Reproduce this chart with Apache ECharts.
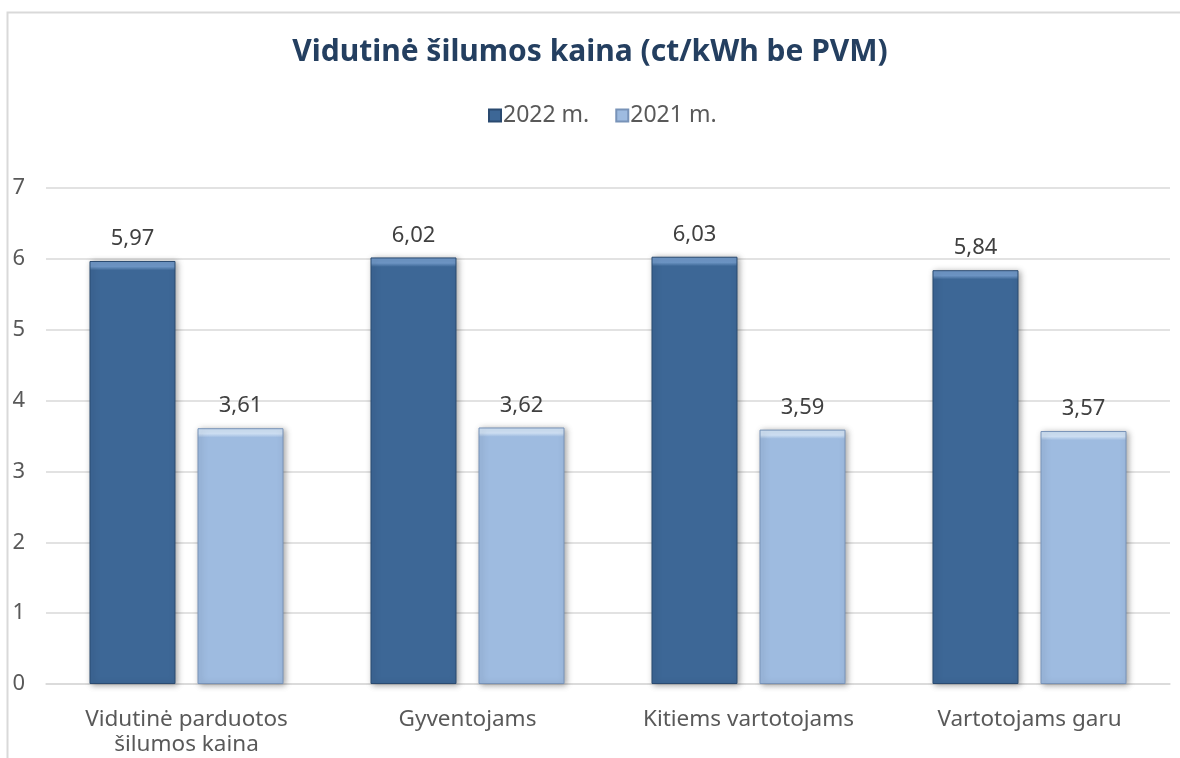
<!DOCTYPE html>
<html>
<head>
<meta charset="utf-8">
<script src="https://cdn.jsdelivr.net/npm/echarts@6/dist/echarts.min.js"></script>
<style>
html,body{margin:0;padding:0;background:#fff;}
#chart{width:1180px;height:758px;}
</style>
</head>
<body>
<div id="chart"></div>
<script>
const titleText = 'Vidutinė šilumos kaina (ct/kWh be PVM)';
const categories = ['Vidutinė parduotos\nšilumos kaina', 'Gyventojams', 'Kitiems vartotojams', 'Vartotojams garu'];
const seriesNames = ['2022 m.', '2021 m.'];
const values2022 = [5.97, 6.02, 6.03, 5.84];
const values2021 = [3.61, 3.62, 3.59, 3.57];
const yTicks = [0, 1, 2, 3, 4, 5, 6, 7];

const font = '"Noto Sans", "Open Sans", sans-serif';

function grad(top, base, stop) {
  return new echarts.graphic.LinearGradient(0, 0, 0, 1, [
    {offset: 0, color: top},
    {offset: stop * 0.6, color: top},
    {offset: stop, color: base},
    {offset: 1, color: base}
  ]);
}

const chart = echarts.init(document.getElementById('chart'));
const makeSeries = (name, data, base, top, edge, stop) => ({
  name: name,
  type: 'bar',
  data: data,
  barWidth: 86,
  barGap: '25.6%',
  itemStyle: {
    color: grad(top, base, stop),
    borderColor: edge,
    borderWidth: 1,
    shadowColor: 'rgba(0,0,0,0.35)',
    shadowBlur: 6,
    shadowOffsetX: 2,
    shadowOffsetY: 1
  },
  label: {
    show: true,
    position: 'top',
    distance: 11,
    fontFamily: font,
    fontSize: 22,
    color: '#404040',
    formatter: p => p.value.toFixed(2).replace('.', ',')
  }
});

chart.setOption({
  animation: false,
  backgroundColor: '#ffffff',
  title: {
    text: titleText,
    left: 'center',
    top: 32,
    textStyle: {fontFamily: font, fontSize: 30, fontWeight: 'bold', color: '#243F60'}
  },
  legend: {
    data: seriesNames,
    top: 99,
    left: 483,
    itemWidth: 12,
    itemHeight: 12,
    itemGap: 26,
    icon: 'rect',
    textStyle: {fontFamily: font, fontSize: 23, color: '#595959', padding: [0, 0, 0, -3]}
  },
  grid: {left: 46, right: 10, top: 188, bottom: 74, containLabel: false},
  xAxis: {
    type: 'category',
    data: categories,
    axisLine: {show: true, lineStyle: {color: '#D9D9D9', width: 1.5}},
    axisTick: {show: false},
    axisLabel: {fontFamily: font, fontSize: 22.5, color: '#595959', margin: 23, lineHeight: 25, interval: 0}
  },
  yAxis: {
    type: 'value',
    min: yTicks[0],
    max: yTicks[yTicks.length - 1],
    interval: 1,
    axisLine: {show: false},
    axisTick: {show: false},
    splitLine: {lineStyle: {color: '#D9D9D9', width: 1.5}},
    axisLabel: {fontFamily: font, fontSize: 22, color: '#595959', margin: 21, align: 'right'}
  },
  graphic: [{
    type: 'polyline',
    silent: true,
    shape: {points: [[7.5, 760], [7.5, 12.5], [1185, 12.5]]},
    style: {stroke: '#D9D9D9', lineWidth: 2, fill: null}
  }],
  series: [
    makeSeries(seriesNames[0], values2022, '#3D6796', '#6F97C7', '#2A4A70', 0.022),
    makeSeries(seriesNames[1], values2021, '#9EBBE0', '#D0E2F6', '#7893B8', 0.036)
  ]
});
</script>
</body>
</html>
